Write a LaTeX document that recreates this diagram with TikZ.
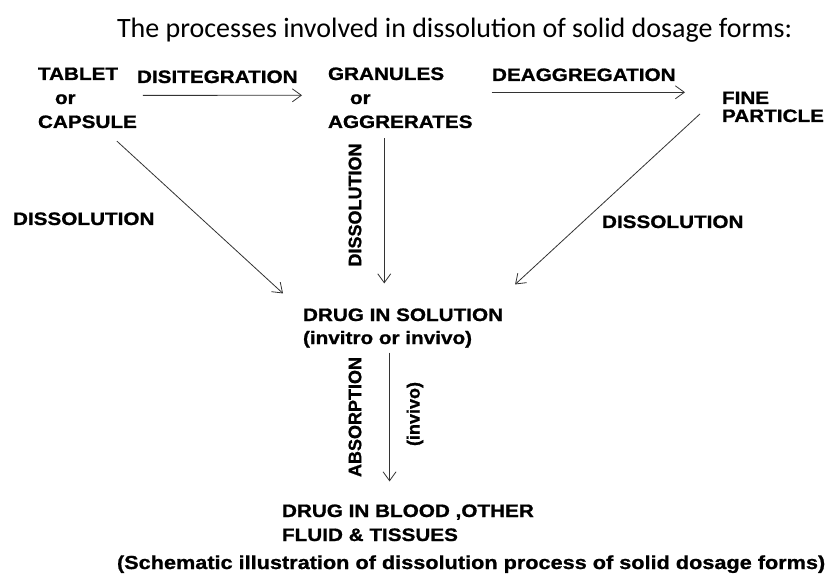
\documentclass[tikz,border=0pt]{standalone}
\usepackage{fontspec}
\setmainfont{Carlito}
\newfontfamily\bsf{Liberation Sans}[FakeStretch=1.15,FakeBold=1]
\newfontfamily\bsr{Liberation Sans}[FakeBold=1]
\usetikzlibrary{arrows.meta,calc}
\begin{document}
\begin{tikzpicture}[x=1pt,y=-1pt,
  every node/.style={inner sep=0pt,outer sep=0pt},
  lbl/.style={font=\bsf\bfseries\fontsize{18}{24}\selectfont,align=left,anchor=base west},
  vlbl/.style={font=\bsr\bfseries\fontsize{18}{22}\selectfont,rotate=90},
  arr/.style={draw=black!80,line width=0.8pt,-{Straight Barb[length=9pt,width=13pt,line width=0.8pt]}}]
\useasboundingbox[fill=white] (0,0) rectangle (827,577);

\node[font=\fontsize{28}{32}\selectfont,anchor=base west] (title) at (117,38) {The processes involved in dissolution of solid dosage forms:};

\node[lbl] (tab) at (38,128) {TABLET\\\hspace{17pt}or\\CAPSULE};
\node[lbl] (gran) at (328,128) {GRANULES\\\hspace{22pt}or\\AGGRERATES};
\node[lbl,font=\bsf\bfseries\fontsize{18}{18}\selectfont] (fine) at (722,122) {FINE\\PARTICLE};

\node[lbl] (disint) at (137,83) {DISITEGRATION};
\node[lbl] (deagg) at (492,81) {DEAGGREGATION};

\node[lbl] (dissL) at (13,225) {DISSOLUTION};
\node[lbl] (dissR) at (602,228) {DISSOLUTION};
\node[vlbl] (dissM) at (355,205) {DISSOLUTION};

\node[lbl,font=\bsf\bfseries\fontsize{18}{23}\selectfont] (sol) at (303,344) {DRUG IN SOLUTION\\(invitro or invivo)};
\node[vlbl] (abs) at (355,417) {ABSORPTION};
\node[vlbl] (inv) at (415,414) {(invivo)};
\node[lbl] (blood) at (282,541) {DRUG IN BLOOD ,OTHER\\FLUID \& TISSUES};

\node[lbl,font=\bsf\bfseries\fontsize{18.85}{22}\selectfont] (cap) at (117,569) {(Schematic illustration of dissolution process of solid dosage forms)};

\draw[arr] ([shift={(6,-2.5)}]tab.east) -- ([shift={(-26,-2.5)}]gran.west);
\draw[arr] ([shift={(19,-5.5)}]gran.east) coordinate (d0) -- ($(d0 -| fine.west)+(-37,0)$);
\draw[arr] ($(tab.south)+(29.5,13)$) -- ($(sol.north west)+(-20,-15)$);
\draw[arr] ($(gran.south)+(-16,10)$) -- ($(gran.south |- sol.north)+(-16,-25)$);
\draw[arr] ($(fine.west)+(-22,7)$) -- ($(sol.north east)+(12,-24)$);
\draw[arr] ($(sol.south)+(-13.5,5)$) -- ($(sol.south |- blood.north)+(-13.5,-23)$);
\end{tikzpicture}
\end{document}
